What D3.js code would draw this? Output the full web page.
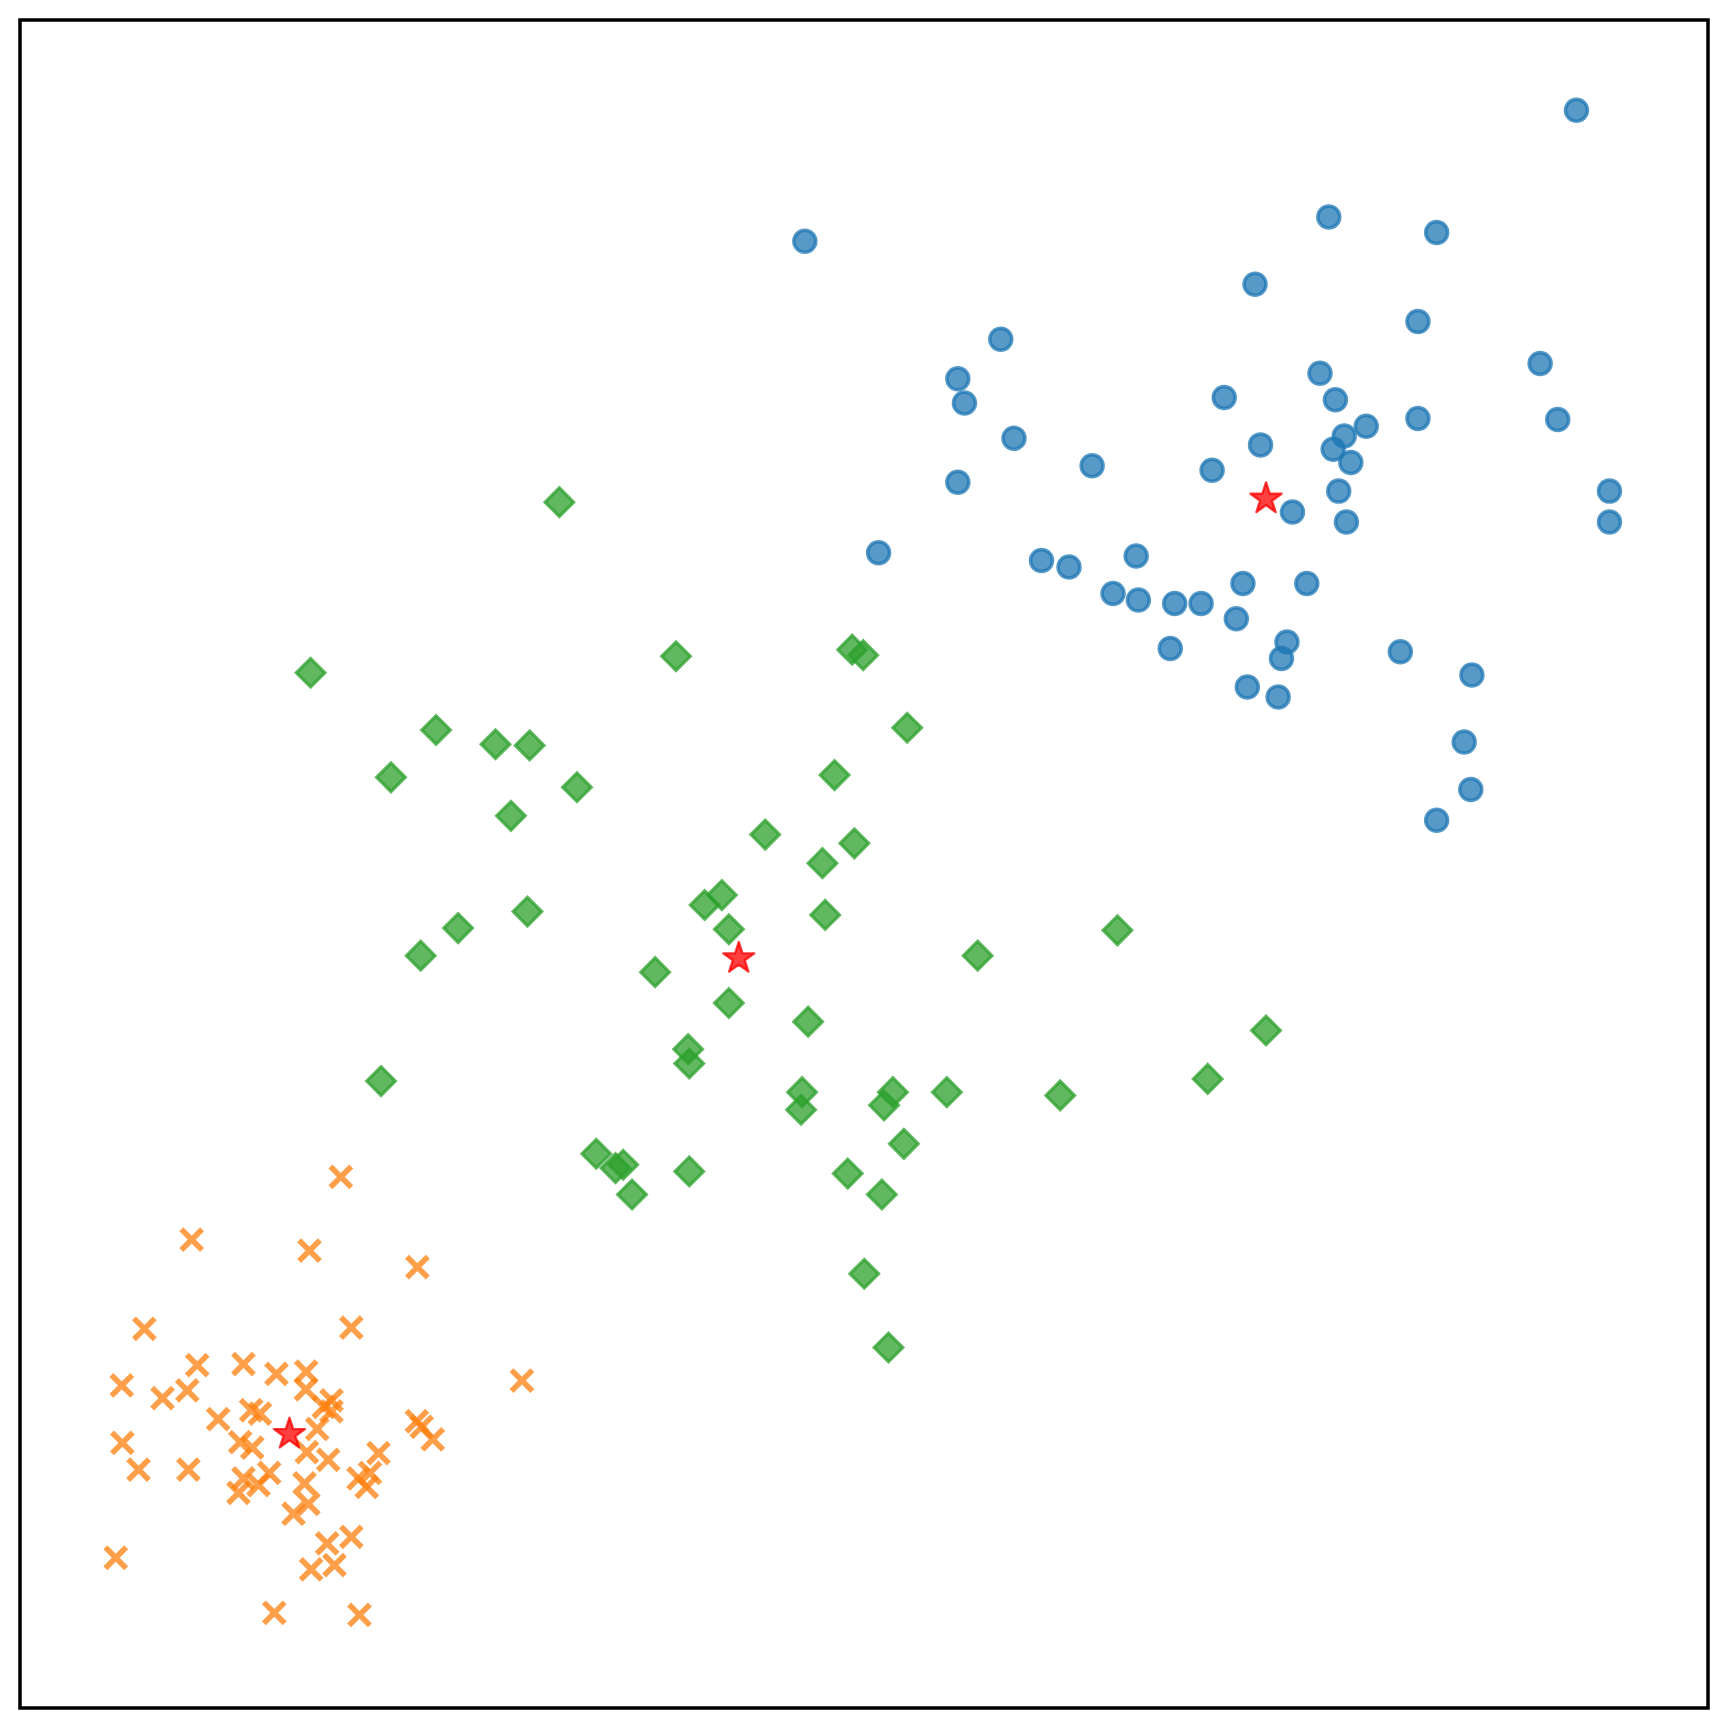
<!DOCTYPE html>
<html>
<head>
<meta charset="utf-8">
<script src="https://cdn.jsdelivr.net/npm/d3@7"></script>
<style>
  html, body { margin: 0; padding: 0; background: #fff; }
  svg { display: block; }
</style>
</head>
<body>
<div id="chart"></div>
<script>
// ── Data (plot units, y grows downward) ──
const clusterBlue = [
  [731,219],[1432,100],[1207,197],[1305,211],[1140,258],[1288,292],[909,308],[1399,330],
  [870,344],[876,366],[1199,339],[1112,361],[1213,363],[1288,380],[1415,381],[1241,387],
  [921,398],[1221,396],[1211,408],[1145,404],[992,423],[1101,427],[870,438],[1227,420],
  [1216,446],[1462,446],[1462,474],[1223,474],[1174,465],[798,502],[946,509],[971,515],
  [1032,505],[1129,530],[1187,530],[1011,539],[1034,545],[1067,548],[1091,548],[1123,562],
  [1169,583],[1164,598],[1063,589],[1272,592],[1337,613],[1133,624],[1161,633],[1330,674],
  [1336,717],[1305,745]
];

const clusterOrange = [
  [309.5,1069],[174,1126],[281,1136],[379,1151],[131,1207],[319,1206],[474,1254],[179,1240],
  [221,1239],[251,1248],[278,1246],[110.5,1258.5],[170,1263],[147.5,1270],[277.7,1262],[294,1278],
  [301,1272],[301,1282],[288,1298],[198,1289],[228,1281],[236,1284],[378.5,1291],[383,1296],
  [393,1307.5],[111,1310.6],[218,1310],[229,1315],[278.6,1319],[343.7,1320],[298,1326],[125.7,1335],
  [171,1335],[244.4,1338],[221,1343],[234.7,1349],[216.5,1356],[276.5,1347.5],[280,1366],[266.5,1375],
  [325.5,1343],[336,1338],[333,1350.6],[297,1402],[319,1396],[105,1415],[282.5,1425.6],[303.7,1421.7],
  [249,1465],[326.4,1467]
];

const clusterGreen = [
  [508,456],[282,611],[614,596],[774,590],[784,595],[396,663],[450,676],[481,677],
  [824,661],[355,706],[524,715],[758,704],[464,741],[695,758],[776,766],[747,784],
  [655.6,813],[640,822],[662,844],[749.5,831],[479,828],[416,843],[382,868],[1015,845],
  [888,868],[595,883],[662,911],[734,928],[1150,936],[625,953],[626,966],[346,982],
  [1097,980],[728.5,992],[811,992],[727.6,1008],[803,1004],[860,992],[963,995],[821,1039],
  [541.5,1048],[559,1061],[566,1058],[626,1064],[770,1066],[574,1085],[801,1085],[785,1157],
  [807,1224]
];

const centroids = [[1150,453],[262.8,1302.7],[671,870.5]];

// plot limits in the same units
const xLimits = [18, 1551.5];
const yLimits = [18, 1551.5];

const COLORS = { blue: "#1f77b4", orange: "#ff7f0e", green: "#2ca02c", star: "#ff0000" };
const ALPHA = 0.75;

// ── Layout ──
const W = 1726, H = 1726;
const FRAME = { left: 20, top: 20, right: 1708, bottom: 1708 };

const svg = d3.select("#chart").append("svg")
  .attr("width", W)
  .attr("height", H);

svg.append("rect")
  .attr("width", W).attr("height", H)
  .attr("fill", "#fff");

const x = d3.scaleLinear().domain(xLimits).range([FRAME.left, FRAME.right]);
const y = d3.scaleLinear().domain(yLimits).range([FRAME.top, FRAME.bottom]);

const plot = svg.append("g");

// blue circles
plot.append("g").selectAll("circle")
  .data(clusterBlue)
  .join("circle")
  .attr("cx", d => x(d[0]))
  .attr("cy", d => y(d[1]))
  .attr("r", 11)
  .attr("fill", COLORS.blue)
  .attr("fill-opacity", ALPHA)
  .attr("stroke", COLORS.blue)
  .attr("stroke-opacity", ALPHA)
  .attr("stroke-width", 3.5);

// orange crosses
const h = 10.4;
const crossPath = `M${-h},${-h}L${h},${h}M${-h},${h}L${h},${-h}`;
plot.append("g").selectAll("path")
  .data(clusterOrange)
  .join("path")
  .attr("transform", d => `translate(${x(d[0])},${y(d[1])})`)
  .attr("d", crossPath)
  .attr("fill", "none")
  .attr("stroke", COLORS.orange)
  .attr("stroke-opacity", ALPHA)
  .attr("stroke-width", 5.6);

// green diamonds
const diamond = d3.symbol().type(d3.symbolSquare).size(410);
plot.append("g").selectAll("path")
  .data(clusterGreen)
  .join("path")
  .attr("transform", d => `translate(${x(d[0])},${y(d[1])}) rotate(45)`)
  .attr("d", diamond())
  .attr("fill", COLORS.green)
  .attr("fill-opacity", ALPHA)
  .attr("stroke", COLORS.green)
  .attr("stroke-opacity", ALPHA)
  .attr("stroke-width", 3.2);

// centroids
const star = d3.symbol().type(d3.symbolStar).size(300);
plot.append("g").selectAll("path")
  .data(centroids)
  .join("path")
  .attr("transform", d => `translate(${x(d[0])},${y(d[1])})`)
  .attr("d", star())
  .attr("fill", COLORS.star)
  .attr("fill-opacity", ALPHA)
  .attr("stroke", COLORS.star)
  .attr("stroke-opacity", ALPHA)
  .attr("stroke-width", 2.4)
  .attr("stroke-linejoin", "round");

// frame
svg.append("rect")
  .attr("x", FRAME.left).attr("y", FRAME.top)
  .attr("width", FRAME.right - FRAME.left)
  .attr("height", FRAME.bottom - FRAME.top)
  .attr("fill", "none")
  .attr("stroke", "#000")
  .attr("stroke-width", 3.5);
</script>
</body>
</html>
